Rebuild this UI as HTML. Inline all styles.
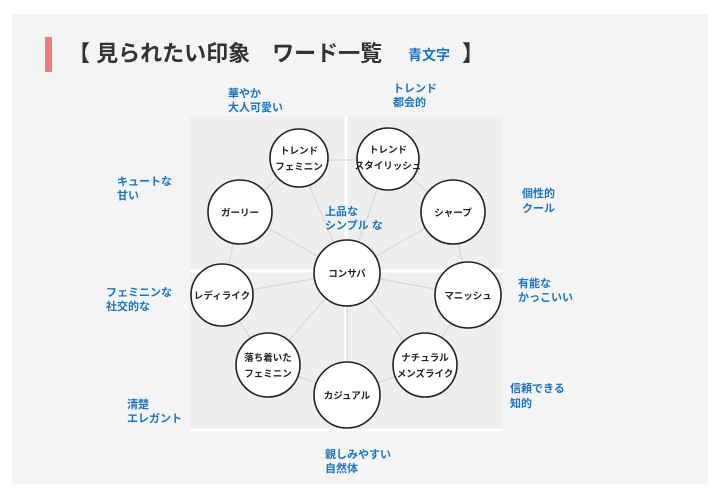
<!DOCTYPE html>
<html><head><meta charset="utf-8"><style>
body{margin:0;background:#fff;}
svg{display:block;font-family:"Liberation Sans","Noto Sans CJK JP",sans-serif;}
.b{fill:#1b75c0;font-size:11px;font-weight:bold;}
.c{font-size:9.5px;font-weight:bold;fill:#222;text-anchor:middle;}
</style></head><body>
<svg width="720" height="498" viewBox="0 0 720 498">
<rect x="12" y="14" width="696" height="470" fill="#f4f4f4"/>
<rect x="45" y="37" width="7" height="35" fill="#f47a7a"/>
<text x="68" y="61" font-size="22" font-weight="bold" fill="#333">【 見られたい印象　ワード一覧</text>
<text x="408" y="60" font-size="14" font-weight="bold" fill="#1b75c0">青文字</text>
<text x="462" y="61" font-size="22" font-weight="bold" fill="#333">】</text>
<rect x="190" y="116" width="313" height="315" fill="#eeeeee"/>
<line x1="346" y1="116" x2="346" y2="431" stroke="#fff" stroke-width="3"/>
<line x1="190" y1="271" x2="503" y2="271" stroke="#fff" stroke-width="3"/>
<line x1="190" y1="430" x2="503" y2="430" stroke="#fff" stroke-width="2"/>
<g stroke="#dcdcdc" stroke-width="1.5" fill="none">
<polygon points="298,160 388,160 453,212 468,295 425,365 347,395 268,365 222,295 240,212"/>
<line x1="347" y1="273" x2="298" y2="160"/><line x1="347" y1="273" x2="388" y2="160"/>
<line x1="347" y1="273" x2="453" y2="212"/><line x1="347" y1="273" x2="468" y2="295"/>
<line x1="347" y1="273" x2="425" y2="365"/><line x1="347" y1="273" x2="347" y2="395"/>
<line x1="347" y1="273" x2="268" y2="365"/><line x1="347" y1="273" x2="222" y2="295"/>
<line x1="347" y1="273" x2="240" y2="212"/>
</g>
<g fill="#fff" stroke="#222" stroke-width="1.6">
<circle cx="299" cy="158" r="29"/><circle cx="388" cy="159" r="31"/>
<circle cx="240" cy="212" r="32"/><circle cx="453" cy="212" r="32"/>
<circle cx="347" cy="273" r="33"/><circle cx="222" cy="295" r="31"/>
<circle cx="468" cy="295" r="33"/><circle cx="268" cy="365" r="32"/>
<circle cx="425" cy="365" r="32"/><circle cx="347" cy="395" r="33"/>
</g>
<g class="c">
<text x="299" y="154">トレンド</text><text x="299" y="170">フェミニン</text>
<text x="388" y="153">トレンド</text><text x="388" y="169">スタイリッシュ</text>
<text x="240" y="216">ガーリー</text><text x="453" y="216">シャープ</text>
<text x="347" y="277">コンサバ</text><text x="222" y="299">レディライク</text>
<text x="468" y="299">マニッシュ</text>
<text x="268" y="361">落ち着いた</text><text x="268" y="377">フェミニン</text>
<text x="425" y="361">ナチュラル</text><text x="425" y="377">メンズライク</text>
<text x="347" y="399">カジュアル</text>
</g>
<g class="b">
<text x="228" y="97">華やか</text><text x="228" y="111">大人可愛い</text>
<text x="393" y="92">トレンド</text><text x="393" y="106">都会的</text>
<text x="117" y="185">キュートな</text><text x="117" y="199">甘い</text>
<text x="522" y="197">個性的</text><text x="522" y="212">クール</text>
<text x="325" y="215">上品な</text><text x="325" y="229">シンプル な</text>
<text x="106" y="296">フェミニンな</text><text x="106" y="310">社交的な</text>
<text x="518" y="287">有能な</text><text x="518" y="301">かっこいい</text>
<text x="127" y="408">清楚</text><text x="127" y="422">エレガント</text>
<text x="510" y="392">信頼できる</text><text x="510" y="407">知的</text>
<text x="325" y="458">親しみやすい</text><text x="325" y="472">自然体</text>
</g>
</svg>
</body></html>
